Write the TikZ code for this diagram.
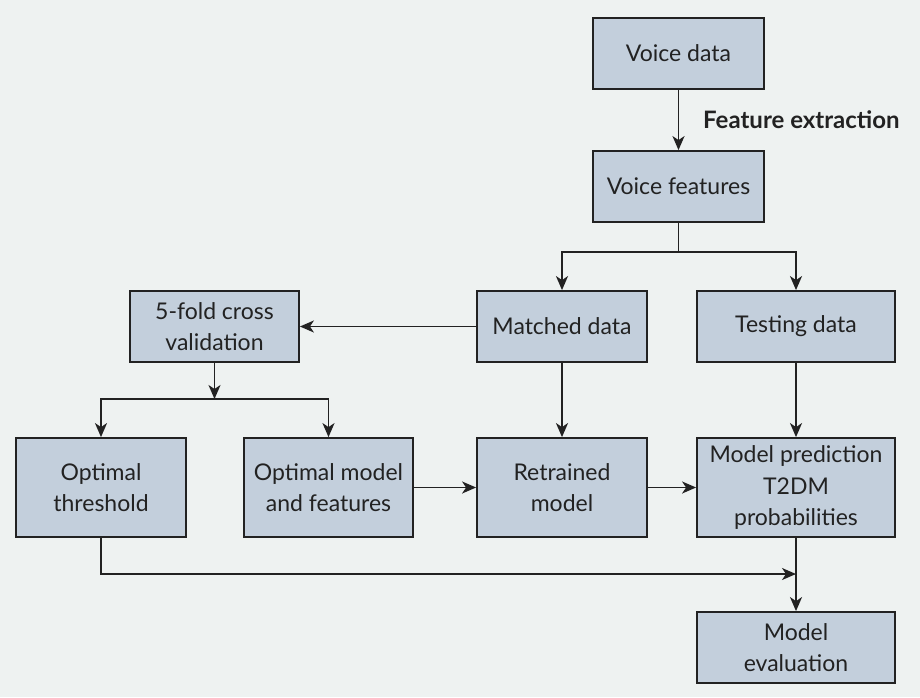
\documentclass[tikz,border=0pt]{standalone}
\usepackage{fontspec}
\setmainfont{Lato}
\usetikzlibrary{arrows.meta,calc}
\definecolor{bgc}{HTML}{EEF2F1}
\definecolor{boxc}{HTML}{C3CFDC}
\definecolor{inkc}{HTML}{222222}
\begin{document}
\begin{tikzpicture}[x=1pt,y=-1pt,
  box/.style={draw=inkc,fill=boxc,line width=1.8pt,inner sep=0pt,align=center,
    text=inkc,font=\fontsize{23}{31.5}\selectfont},
  conn/.style={draw=inkc,line width=1.8pt},
  arr/.style={conn,-{Stealth[length=14pt,width=12pt,inset=4pt]}}]
\fill[bgc] (0,0) rectangle (920,697);
\useasboundingbox (0,0) rectangle (920,697);
\node[box,minimum width=171pt,minimum height=71pt] (vd) at (678.5,53.5) {Voice data};
\node[box,minimum width=171pt,minimum height=71pt] (vf) at (678.5,186.5) {Voice features};
\node[box,minimum width=170pt,minimum height=71pt] (md) at (562,326.5) {Matched data};
\node[box,minimum width=198pt,minimum height=71pt] (td) at (796,326.5) {Testing data};
\node[box,minimum width=169pt,minimum height=71pt] (cv) at (214.5,326.5) {5-fold cross\\validation};
\node[box,minimum width=170pt,minimum height=99pt] (ot) at (101,487.5) {Optimal\\threshold};
\node[box,minimum width=169pt,minimum height=99pt] (om) at (328.5,487.5) {Optimal model\\and features};
\node[box,minimum width=170pt,minimum height=99pt] (rm) at (562,487.5) {Retrained\\model};
\node[box,minimum width=198pt,minimum height=99pt] (mp) at (796,487.5) {Model prediction\\T2DM\\probabilities};
\node[box,minimum width=198pt,minimum height=71pt] (me) at (796,647.5) {Model\\evaluation};
\node[anchor=west,inner sep=0pt,text=inkc,font=\fontsize{24}{28}\selectfont\bfseries] (fe) at (703,120) {Feature extraction};
\coordinate (j1) at (678.5,252);
\coordinate (j2) at (214.5,399);
\coordinate (j3) at (796,574);
\draw[arr] (vd) -- (vf);
\draw[conn] (vf) -- (j1);
\draw[arr] (j1) -| (md.north);
\draw[arr] (j1) -| (td.north);
\draw[arr] (md) -- (cv);
\draw[arr] (cv) -- (j2);
\draw[arr] (j2) -| (ot.north);
\draw[arr] (j2) -| (om.north);
\draw[arr] (md) -- (rm);
\draw[arr] (td) -- (mp);
\draw[arr] (om) -- (rm);
\draw[arr] (rm) -- (mp);
\draw[arr] (mp) -- (me);
\draw[arr] (ot.south) |- (j3);
\end{tikzpicture}
\end{document}
